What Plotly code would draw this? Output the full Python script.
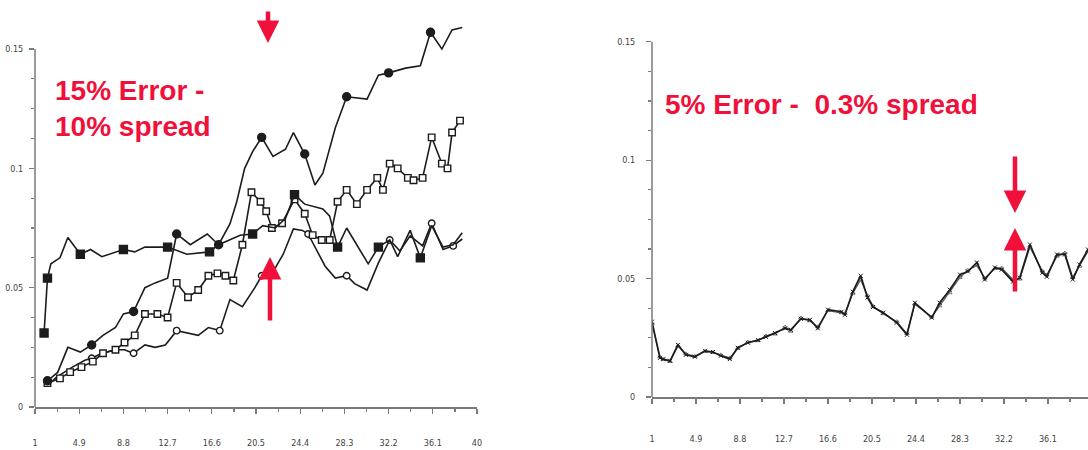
import plotly.graph_objects as go

# ---------------- axis labels ----------------
x_tick_vals = [1, 4.9, 8.8, 12.7, 16.6, 20.5, 24.4, 28.3, 32.2, 36.1, 40]
x_tick_text = ["1", "4.9", "8.8", "12.7", "16.6", "20.5", "24.4", "28.3", "32.2", "36.1", "40"]
x_minor_vals = [2.95, 6.85, 10.75, 14.65, 18.55, 22.45, 26.35, 30.25, 34.15, 38.05]
y_tick_vals = [0, 0.05, 0.1, 0.15]
y_tick_text = ["0", "0.05", "0.1", "0.15"]
y_minor_vals = [0.0125, 0.025, 0.0375, 0.0625, 0.075, 0.0875, 0.1125, 0.125, 0.1375]

# ---------------- left panel: 15% error, 10% spread ----------------
fs_x = [1.8, 2.1, 2.4, 3.2, 3.9, 5.0, 5.9, 6.9, 8.8, 9.8, 10.7, 12.7, 14.4, 16.4, 17.2, 19.1, 20.2, 21.1,
        22.2, 23.1, 23.9, 24.8, 26.4, 27.0, 27.7, 28.5, 30.4, 31.3, 32.3, 33.0, 34.1, 35.0, 36.0, 37.0, 37.9, 38.7]
fs_y = [0.031, 0.054, 0.060, 0.0625, 0.071, 0.064, 0.066, 0.063, 0.066, 0.065, 0.067, 0.067, 0.064, 0.065,
        0.068, 0.072, 0.0725, 0.076, 0.075, 0.079, 0.089, 0.085, 0.083, 0.080, 0.067, 0.075, 0.060, 0.067,
        0.070, 0.063, 0.074, 0.0625, 0.076, 0.067, 0.068, 0.073]
fs_marks = [0, 1, 5, 8, 11, 13, 16, 20, 24, 27, 31]

fc_x = [2.1, 3.0, 3.9, 5.0, 6.0, 7.0, 8.1, 8.8, 9.7, 10.7, 11.6, 12.7, 13.5, 14.7, 16.2, 17.2, 18.2, 18.8, 19.5,
        20.2, 21.0, 22.0, 23.1, 23.8, 24.8, 25.7, 26.4, 27.5, 28.5, 30.3, 31.3, 32.2, 33.7, 35.0, 35.9, 36.9,
        37.8, 38.7]
fc_y = [0.011, 0.0145, 0.025, 0.023, 0.026, 0.030, 0.0333, 0.039, 0.040, 0.050, 0.052, 0.054, 0.0725, 0.068,
        0.0725, 0.068, 0.0767, 0.086, 0.100, 0.107, 0.113, 0.105, 0.108, 0.115, 0.106, 0.093, 0.098, 0.117,
        0.130, 0.129, 0.139, 0.140, 0.142, 0.143, 0.157, 0.150, 0.158, 0.159]
fc_marks = [0, 4, 8, 12, 15, 20, 24, 28, 31, 34]

os_x = [2.1, 3.2, 4.1, 5.1, 6.1, 7.0, 8.1, 8.9, 9.8, 10.7, 11.8, 12.7, 13.5, 14.5, 15.4, 16.3, 17.1, 17.8,
        18.5, 19.3, 20.1, 20.9, 21.4, 21.9, 22.8, 23.9, 24.8, 25.5, 26.3, 27.0, 27.7, 28.5, 29.4, 30.3, 31.2,
        31.7, 32.3, 33.0, 33.9, 34.4, 35.2, 36.0, 36.9, 37.4, 37.8, 38.5]
os_y = [0.010, 0.012, 0.0146, 0.0167, 0.019, 0.0225, 0.024, 0.027, 0.030, 0.039, 0.039, 0.0375, 0.052, 0.046,
        0.049, 0.055, 0.056, 0.055, 0.053, 0.068, 0.090, 0.086, 0.082, 0.075, 0.077, 0.087, 0.081, 0.072,
        0.070, 0.070, 0.086, 0.091, 0.085, 0.091, 0.096, 0.091, 0.102, 0.100, 0.096, 0.095, 0.096, 0.113,
        0.102, 0.100, 0.115, 0.120]

oc_x = [2.1, 2.9, 4.3, 5.4, 6.0, 6.9, 8.1, 8.9, 9.7, 10.7, 11.6, 12.5, 13.5, 14.5, 15.4, 16.3, 17.3, 18.2,
        19.3, 20.4, 21.0, 22.2, 22.9, 23.8, 24.6, 25.1, 25.9, 26.6, 27.5, 28.5, 29.2, 30.3, 31.3, 32.3, 33.2,
        34.1, 35.2, 36.0, 37.0, 37.9, 38.7]
oc_y = [0.009, 0.0125, 0.0167, 0.0196, 0.0204, 0.0225, 0.024, 0.024, 0.0225, 0.026, 0.025, 0.026, 0.032,
        0.031, 0.030, 0.0333, 0.032, 0.045, 0.042, 0.050, 0.055, 0.0583, 0.064, 0.0746, 0.074, 0.0725,
        0.0654, 0.059, 0.054, 0.055, 0.0517, 0.049, 0.0604, 0.070, 0.0654, 0.0717, 0.0675, 0.077, 0.066,
        0.0675, 0.0704]
oc_marks = [4, 8, 12, 16, 20, 25, 29, 33, 37, 39]

# ---------------- right panel: 5% error, 0.3% spread ----------------
r_x = [1.0, 1.7, 2.0, 2.6, 3.3, 4.0, 4.8, 5.7, 6.4, 7.1, 7.9, 8.6, 9.5, 10.4, 11.1, 11.9, 12.8, 13.3, 14.2,
       15.0, 15.7, 16.6, 17.8, 18.1, 18.8, 19.5, 20.1, 20.6, 21.5, 22.7, 23.6, 24.3, 25.8, 26.5, 27.4, 28.3,
       29.0, 29.8, 30.5, 31.4, 32.0, 33.0, 33.6, 34.5, 35.6, 36.0, 36.9, 37.6, 38.3, 38.9, 39.65, 40.0]
ra_y = [0.0318, 0.0165, 0.016, 0.0153, 0.022, 0.0178, 0.017, 0.0195, 0.019, 0.0174, 0.016, 0.0208, 0.0229,
        0.024, 0.0254, 0.027, 0.029, 0.0284, 0.033, 0.0326, 0.029, 0.0369, 0.036, 0.0347, 0.0445, 0.0512,
        0.042, 0.038, 0.0356, 0.0314, 0.0263, 0.0398, 0.0335, 0.0398, 0.0453, 0.0517, 0.053, 0.0568, 0.0496,
        0.0547, 0.0538, 0.0487, 0.0504, 0.0644, 0.0525, 0.0508, 0.0602, 0.0602, 0.0496, 0.056, 0.0623, 0.063]
rb_y = [0.031, 0.017, 0.0158, 0.015, 0.0215, 0.0182, 0.0172, 0.0192, 0.0188, 0.0178, 0.0165, 0.0205, 0.0232,
        0.0238, 0.0258, 0.0266, 0.0295, 0.0278, 0.0334, 0.0322, 0.0296, 0.0365, 0.0356, 0.0352, 0.0438, 0.0495,
        0.0428, 0.0383, 0.0352, 0.0318, 0.0268, 0.0392, 0.0338, 0.0385, 0.044, 0.0505, 0.0535, 0.0555, 0.0502,
        0.0542, 0.0545, 0.0495, 0.0498, 0.0632, 0.0532, 0.0515, 0.0595, 0.0608, 0.0505, 0.0552, 0.0615, 0.062]

LINE = "#1c1c1c"
RED = "#f0103a"
AXIS = "#7a7a7a"
TICKFONT = dict(family="Liberation Sans Narrow, DejaVu Sans Condensed, sans-serif", size=9, color="#444")

fig = go.Figure()


def add_series(x, y, xa, ya, symbol, filled, marks=None, size=8, all_marks=False, width=1.6):
    fill = LINE if filled else "white"
    if all_marks:
        fig.add_trace(go.Scatter(x=x, y=y, xaxis=xa, yaxis=ya, mode="lines+markers",
                                 line=dict(color=LINE, width=width),
                                 marker=dict(symbol=symbol, size=size, color=fill,
                                             line=dict(color=LINE, width=1.4)),
                                 cliponaxis=False, showlegend=False))
        return
    fig.add_trace(go.Scatter(x=x, y=y, xaxis=xa, yaxis=ya, mode="lines",
                             line=dict(color=LINE, width=width), showlegend=False))
    if marks:
        fig.add_trace(go.Scatter(x=[x[i] for i in marks], y=[y[i] for i in marks], xaxis=xa, yaxis=ya,
                                 mode="markers",
                                 marker=dict(symbol=symbol, size=size, color=fill,
                                             line=dict(color=LINE, width=1.4)),
                                 cliponaxis=False, showlegend=False))


add_series(oc_x, oc_y, "x", "y", "circle", False, oc_marks, size=6.5)
add_series(os_x, os_y, "x", "y", "square", False, all_marks=True, size=6.5)
add_series(fs_x, fs_y, "x", "y", "square", True, fs_marks, size=8)
add_series(fc_x, fc_y, "x", "y", "circle", True, fc_marks, size=8)

fig.add_trace(go.Scatter(x=r_x, y=rb_y, xaxis="x2", yaxis="y2", mode="lines+markers",
                         line=dict(color="#555", width=1.2),
                         marker=dict(symbol="triangle-up-open", size=4, color="#777"),
                         showlegend=False))
fig.add_trace(go.Scatter(x=r_x, y=ra_y, xaxis="x2", yaxis="y2", mode="lines+markers",
                         line=dict(color=LINE, width=1.7),
                         marker=dict(symbol="x-thin-open", size=4, line=dict(color="#444", width=1)),
                         showlegend=False))


def xaxis_cfg(domain, rng, standoff, anchor):
    return dict(domain=domain, range=rng, anchor=anchor, automargin=False, showline=True, linecolor=AXIS,
                linewidth=1.5, ticks="outside", ticklen=5, tickwidth=1.2, tickcolor=AXIS,
                tickmode="array", tickvals=x_tick_vals, ticktext=x_tick_text, tickfont=TICKFONT,
                ticklabelstandoff=standoff, showgrid=False, zeroline=False,
                minor=dict(tickmode="array", tickvals=x_minor_vals, ticks="outside", ticklen=3,
                           tickcolor=AXIS, showgrid=False))


def yaxis_cfg(domain, standoff, anchor):
    return dict(domain=domain, range=[0, 0.163], anchor=anchor, automargin=False, showline=False,
                ticks="outside", ticklen=5, tickwidth=1.2, tickcolor=AXIS, tickmode="array",
                tickvals=y_tick_vals, ticktext=y_tick_text, tickfont=TICKFONT, ticklabelstandoff=standoff,
                showgrid=False, zeroline=False,
                minor=dict(tickmode="array", tickvals=y_minor_vals, ticks="outside", ticklen=3,
                           tickcolor=AXIS, showgrid=False))


W, H = 1088, 450
fig.update_layout(
    width=W, height=H, margin=dict(l=0, r=0, t=0, b=0, autoexpand=False),
    paper_bgcolor="white", plot_bgcolor="white",
    xaxis=xaxis_cfg([35 / W, 477 / W], [1, 40], 22, "y"),
    yaxis=yaxis_cfg([(H - 407) / H, (H - 18) / H], 4, "x"),
    xaxis2=xaxis_cfg([652 / W, 1.0], [1, 39.65], 28, "y2"),
    yaxis2=yaxis_cfg([(H - 397) / H, (H - 11) / H], 9, "x2"),
    shapes=[
        dict(type="line", xref="x domain", x0=0, x1=0, yref="y", y0=0, y1=0.15,
             line=dict(color=AXIS, width=1.5)),
        dict(type="line", xref="x2 domain", x0=0, x1=0, yref="y2", y0=0, y1=0.15,
             line=dict(color=AXIS, width=1.5)),
    ],
)

TITLE_FONT = dict(family="Liberation Sans, Arial, sans-serif", size=28, color=RED)
fig.add_annotation(xref="paper", yref="paper", x=53 / W, y=(H - 108) / H, xanchor="left", yanchor="middle",
                   align="left", text="<b>15% Error -<br>10% spread</b>", showarrow=False, font=TITLE_FONT)
fig.add_annotation(xref="paper", yref="paper", x=663 / W, y=(H - 104) / H, xanchor="left", yanchor="middle",
                   align="left", text="<b>5% Error -\u00a0\u00a00.3% spread</b>", showarrow=False, font=TITLE_FONT)

arrows = [(268, 43, -33), (270, 257, 65), (1015, 213, -58), (1015, 228, 65)]
for px, py, dy in arrows:
    fig.add_annotation(xref="paper", yref="paper", x=px / W, y=(H - py) / H, ax=0, ay=dy, text="",
                       showarrow=True, arrowhead=2, arrowsize=1.0, arrowwidth=4.5, arrowcolor=RED)

fig.write_html("out.html", config={"displayModeBar": False, "staticPlot": True},
               post_script="document.body.style.margin='0';document.body.style.overflow='hidden';")
